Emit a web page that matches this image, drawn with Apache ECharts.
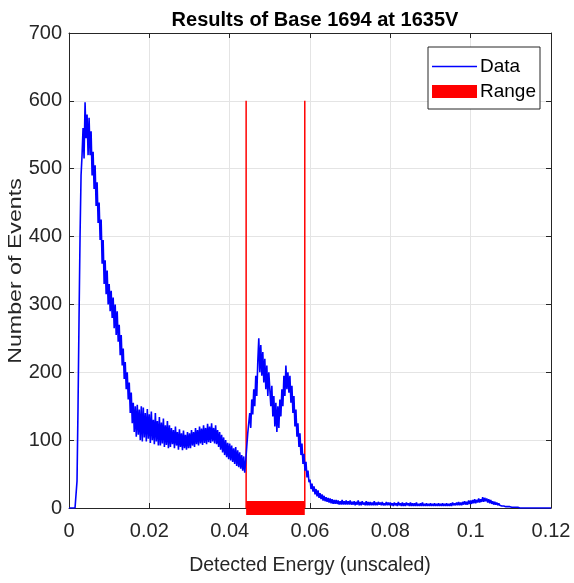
<!DOCTYPE html>
<html><head><meta charset="utf-8">
<script src="https://cdn.jsdelivr.net/npm/echarts@6/dist/echarts.min.js"></script>
<style>html,body{margin:0;padding:0;background:#fff}#c{width:574px;height:583px}</style>
</head><body><div id="c"></div>
<script>
// ---- data ----
const chartTitle = 'Results of Base 1694 at 1635V';
const xName = 'Detected Energy (unscaled)';
const yName = 'Number of Events';
const binWidth = 0.00025; // histogram bin width (energy units); counts[i] is the bin starting at i*binWidth
const counts = [
  // 0.000 - 0.00475
  0, 0, 0, 0, 0, 0, 0, 2, 40, 150, 280, 400, 490, 520, 560, 515, 598, 545, 580, 520,
  // 0.005
  575, 520, 555, 490, 525, 470, 505, 445, 480, 420, 450, 395, 425, 360, 395, 330, 365, 315, 350, 300,
  // 0.010
  330, 290, 320, 280, 310, 265, 300, 255, 290, 245, 270, 225, 255, 210, 235, 190, 215, 175, 200, 160,
  // 0.015
  185, 140, 170, 125, 155, 112, 150, 105, 152, 108, 145, 100, 150, 98, 148, 104, 140, 98, 146, 102,
  // 0.020
  138, 96, 142, 100, 130, 94, 140, 98, 128, 92, 134, 92, 126, 95, 132, 90, 122, 93, 128, 88,
  // 0.025
  122, 90, 118, 94, 115, 88, 120, 92, 112, 86, 116, 90, 110, 85, 114, 88, 108, 86, 112, 88,
  // 0.030
  110, 88, 115, 92, 112, 90, 118, 94, 115, 92, 120, 95, 117, 93, 122, 96, 118, 94, 124, 97,
  // 0.035
  120, 96, 125, 98, 118, 95, 122, 94, 115, 90, 112, 86, 108, 82, 104, 78, 100, 75, 96, 72,
  // 0.040
  95, 70, 92, 68, 88, 65, 90, 62, 85, 60, 82, 58, 78, 55, 76, 52, 70, 90, 110, 125,
  // 0.045
  140, 118, 160, 138, 175, 150, 195, 165, 215, 250, 200, 240, 195, 230, 185, 220, 175, 210, 165, 200,
  // 0.050
  175, 150, 180, 135, 165, 120, 155, 112, 150, 118, 160, 135, 175, 150, 195, 165, 210, 175, 200, 170,
  // 0.055
  195, 155, 180, 140, 165, 120, 145, 105, 125, 90, 110, 78, 95, 65, 80, 55, 68, 45, 55, 38,
  // 0.060
  42, 28, 36, 24, 32, 20, 28, 17, 26, 15, 22, 13, 20, 11, 18, 10, 16, 9, 15, 8,
  // 0.065
  14, 7, 13, 6, 12, 6, 12, 6, 11, 5, 10, 5, 12, 5, 10, 5, 11, 5, 10, 5,
  // 0.070
  11, 5, 9, 5, 10, 4, 9, 5, 11, 4, 9, 4, 10, 5, 8, 4, 10, 4, 9, 4,
  // 0.075
  9, 4, 8, 4, 10, 4, 8, 4, 9, 5, 8, 4, 9, 4, 7, 4, 9, 4, 8, 4,
  // 0.080
  8, 4, 7, 3, 8, 4, 7, 3, 9, 4, 7, 3, 8, 3, 7, 3, 8, 4, 7, 3,
  // 0.085
  8, 3, 7, 3, 7, 3, 8, 3, 6, 3, 7, 3, 8, 3, 6, 3, 7, 3, 6, 3,
  // 0.090
  7, 3, 6, 3, 7, 3, 6, 3, 7, 3, 6, 3, 7, 3, 6, 3, 7, 3, 6, 3,
  // 0.095
  7, 3, 8, 4, 7, 4, 8, 4, 9, 4, 8, 4, 9, 5, 10, 5, 9, 5, 11, 6,
  // 0.100
  11, 6, 12, 7, 13, 7, 12, 8, 14, 8, 13, 9, 16, 9, 15, 10, 14, 8, 13, 7,
  // 0.105
  12, 6, 10, 5, 9, 5, 8, 4, 7, 4, 6, 3, 5, 3, 4, 2, 4, 2, 3, 2,
  // 0.110
  3, 1, 2, 1, 2, 1, 1, 1, 0, 0, 0, 0, 0, 0, 0, 0, 0, 0, 0, 0,
  // 0.115
  0, 0, 0, 0, 0, 0, 0, 0, 0, 0, 0, 0, 0, 0, 0, 0, 0, 0, 0, 0,
  // 0.120
  0
];
const rangeBounds = [0.0441, 0.0587];
const rangeLineTop = 600;
const xTicks = [0, 0.02, 0.04, 0.06, 0.08, 0.1, 0.12];
const yTicks = [0, 100, 200, 300, 400, 500, 600, 700];

// ---- chart ----
const dataPairs = counts.map((c, i) => [+(i * binWidth).toFixed(5), c]);
const REG = '"Liberation Sans", Arial, Helvetica, sans-serif';
const axisCol = '#262626';
const gridCol = '#e4e4e4';
const xmin = xTicks[0], xmax = xTicks[xTicks.length - 1], xint = xTicks[1] - xTicks[0];
const ymin = yTicks[0], ymax = yTicks[yTicks.length - 1], yint = yTicks[1] - yTicks[0];

function baseAxis(extra) {
  return Object.assign({
    type: 'value',
    axisLine: { show: true, onZero: false, lineStyle: { color: axisCol, width: 1 } },
    axisTick: { show: true, inside: true, length: 5, lineStyle: { color: axisCol } },
    splitLine: { show: false },
    axisLabel: { show: false }
  }, extra);
}

// legend line icon: thin bar inside a 45x13 box (zero-area corner marks keep the box size)
const lineIcon = 'path://M0 0 L0.01 0 L0 0.01 Z M0 5.8 L45 5.8 L45 7.2 L0 7.2 Z M45 13 L44.99 13 L45 12.99 Z';

const chart = echarts.init(document.getElementById('c'));
chart.setOption({
  animation: false,
  backgroundColor: '#fff',
  title: {
    text: chartTitle, left: 310, top: 5, textAlign: 'center',
    textStyle: { fontFamily: REG, fontWeight: 'bold', fontSize: 20, color: '#000' }
  },
  grid: { left: 69, right: 23, top: 33, bottom: 75, containLabel: false },
  legend: {
    data: [{ name: 'Data', icon: lineIcon }, { name: 'Range', icon: 'rect' }],
    orient: 'vertical', right: 34, top: 47,
    itemWidth: 45, itemHeight: 13, itemGap: 6,
    padding: [10, 4, 8, 4],
    borderColor: axisCol, borderWidth: 1, backgroundColor: '#fff',
    textStyle: { fontFamily: REG, fontSize: 19, color: '#000', padding: [0, 0, 0, -2] }
  },
  xAxis: [
    baseAxis({
      position: 'bottom', min: xmin, max: xmax, interval: xint,
      splitLine: { show: true, lineStyle: { color: gridCol, width: 1 } },
      axisLabel: { show: true, color: axisCol, fontFamily: REG, fontSize: 20, margin: 13,
        formatter: v => String(+v.toFixed(4)) },
      name: xName, nameLocation: 'middle', nameGap: 48,
      nameTextStyle: { fontFamily: REG, fontSize: 19.5, color: axisCol }
    }),
    baseAxis({ position: 'top', min: xmin, max: xmax, interval: xint })
  ],
  yAxis: [
    baseAxis({
      position: 'left', min: ymin, max: ymax, interval: yint,
      splitLine: { show: true, lineStyle: { color: gridCol, width: 1 } },
      axisLabel: { show: true, color: axisCol, fontFamily: REG, fontSize: 20, margin: 7 }
    }),
    baseAxis({ position: 'right', min: ymin, max: ymax, interval: yint })
  ],
  graphic: [{
    type: 'text', x: 16, y: 271, rotation: Math.PI / 2, scaleX: 1.22,
    style: { text: yName, fontFamily: REG, fontSize: 19, fill: axisCol, align: 'center', verticalAlign: 'middle' }
  }],
  series: [
    { name: 'RangeLo', type: 'line', data: [[rangeBounds[0], 0], [rangeBounds[0], rangeLineTop]],
      symbol: 'none', lineStyle: { color: '#ff0000', width: 1.5 }, z: 2, silent: true },
    { name: 'RangeHi', type: 'line', data: [[rangeBounds[1], 0], [rangeBounds[1], rangeLineTop]],
      symbol: 'none', lineStyle: { color: '#ff0000', width: 1.5 }, z: 2, silent: true },
    { name: 'Data', type: 'line', data: dataPairs, symbol: 'none', showSymbol: false,
      lineStyle: { color: '#0000ff', width: 1.6 }, itemStyle: { color: '#0000ff' }, z: 3 },
    { name: 'Range', type: 'line', data: [[rangeBounds[0], 0], [rangeBounds[1], 0]], symbol: 'none',
      clip: false, lineStyle: { color: '#ff0000', width: 14, cap: 'butt' }, itemStyle: { color: '#ff0000' }, z: 4 }
  ]
});
</script></body></html>
